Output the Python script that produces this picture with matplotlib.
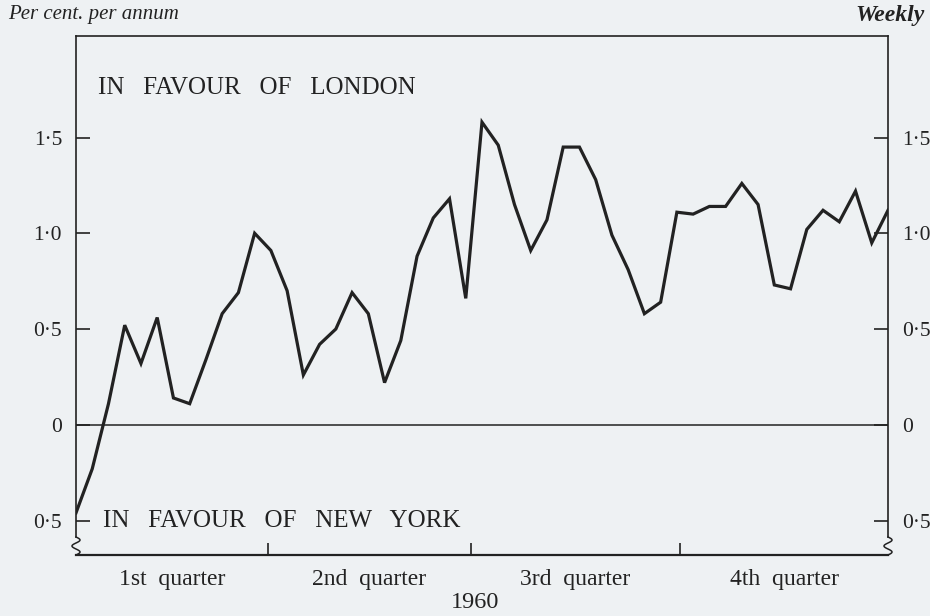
import numpy as np
import matplotlib
matplotlib.use("Agg")
import matplotlib.pyplot as plt

# Weekly differential (per cent per annum), 1960
weeks = list(range(51))
values = [-0.46, -0.23, 0.11, 0.52, 0.32, 0.56, 0.14, 0.11, 0.34, 0.58,
          0.69, 1.00, 0.91, 0.70, 0.26, 0.42, 0.50, 0.69, 0.58, 0.22,
          0.44, 0.88, 1.08, 1.18, 0.66, 1.58, 1.46, 1.15, 0.91, 1.07,
          1.45, 1.45, 1.28, 0.99, 0.81, 0.58, 0.64, 1.11, 1.10, 1.14,
          1.14, 1.26, 1.15, 0.73, 0.71, 1.02, 1.12, 1.06, 1.22, 0.95,
          1.12]

ytick_values = [-0.5, 0, 0.5, 1.0, 1.5]
ytick_labels = ["0·5", "0", "0·5", "1·0", "1·5"]
quarter_bounds = [0, 11.8, 24.3, 37.2, 50]
quarter_labels = ["1st  quarter", "2nd  quarter", "3rd  quarter", "4th  quarter"]

BG = "#eef1f3"
INK = "#222222"
SERIF = ["Liberation Serif", "DejaVu Serif"]
plt.rcParams["font.family"] = SERIF

fig = plt.figure(figsize=(9.3, 6.16), dpi=100, facecolor=BG)
ax = fig.add_axes([76/930, 1-555/616, (888-76)/930, (555-36)/616])
ax.set_facecolor(BG)

ymin, ymax = -0.68, 2.03
ax.set_xlim(0, 50)
ax.set_ylim(ymin, ymax)

ax.plot(weeks, values, color=INK, lw=2.3, solid_joinstyle="miter", zorder=3)
ax.axhline(0, color=INK, lw=1.1, zorder=2)

# spines
for s in ax.spines.values():
    s.set_color(INK)
    s.set_linewidth(1.2)
brk = (555-537)/519  # axes-fraction height of break
ybrk = ymin + brk*(ymax-ymin)
ax.spines["left"].set_bounds(ybrk, ymax)
ax.spines["right"].set_bounds(ybrk, ymax)
ax.spines["bottom"].set_linewidth(1.6)

# squiggle break marks
t = np.linspace(0, 1, 60)
amp = 4/812
for x0 in (0, 1):
    ax.plot(x0 + amp*np.sin(t*3*np.pi), brk*(1-t), transform=ax.transAxes,
            color=INK, lw=1.1, clip_on=False, zorder=4)

# y ticks both sides
ax.set_yticks(ytick_values)
ax.set_yticklabels(ytick_labels)
ax.tick_params(axis="y", which="major", direction="in", length=10, width=1.2,
               color=INK, labelsize=15.5, labelcolor=INK, pad=10,
               left=True, right=True, labelleft=True, labelright=True)

# x quarter ticks
ax.set_xticks(quarter_bounds[1:-1])
ax.set_xticklabels([])
mids = [(a+b)/2 for a, b in zip(quarter_bounds[:-1], quarter_bounds[1:])]
ax.set_xticks(mids, minor=True)
ax.set_xticklabels(quarter_labels, minor=True)
ax.tick_params(axis="x", which="major", direction="in", length=9, width=1.2,
               color=INK)
ax.tick_params(axis="x", which="minor", length=0, labelsize=17,
               labelcolor=INK, pad=10)

ax.text(0.027, 0.90, "IN   FAVOUR   OF   LONDON", transform=ax.transAxes,
        fontsize=18, color=INK, va="center", ha="left")
ax.text(0.033, 0.066, "IN   FAVOUR   OF   NEW   YORK", transform=ax.transAxes,
        fontsize=18, color=INK, va="center", ha="left")

fig.text(8/930, 1-15/616, "Per cent. per annum", fontsize=15, style="italic",
         color=INK, ha="left", va="center")
fig.text(925/930, 1-15/616, "Weekly", fontsize=17, style="italic",
         weight="bold", color=INK, ha="right", va="center")
fig.text(475/930, 1-602/616, "1960", fontsize=17.5, color=INK,
         ha="center", va="center")

fig.savefig("out.png", dpi=100, facecolor=BG)
